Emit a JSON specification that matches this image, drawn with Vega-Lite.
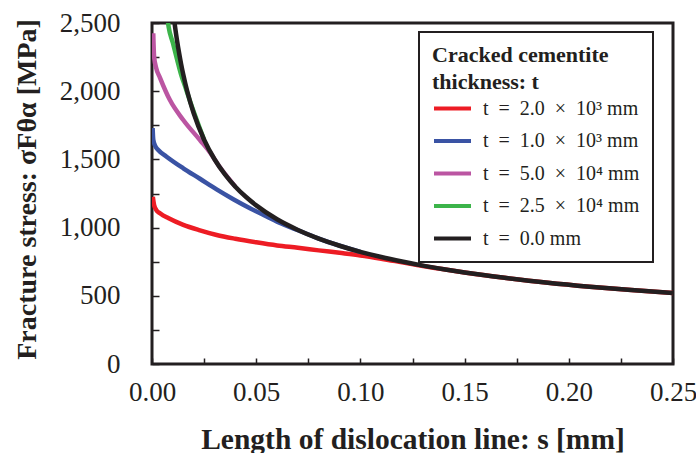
{
  "$schema": "https://vega.github.io/schema/vega-lite/v6.json",
  "width": 521,
  "height": 341,
  "autosize": {"type": "none"},
  "padding": {"left": 152, "top": 23, "right": 23, "bottom": 89},
  "background": "white",
  "config": {
    "font": "Liberation Serif",
    "view": {"stroke": "#231f20", "strokeWidth": 3},
    "axis": {
      "grid": false,
      "domain": false,
      "labelFont": "Liberation Serif",
      "labelFontSize": 27,
      "labelColor": "#231f20",
      "tickColor": "#231f20",
      "tickWidth": 1.5,
      "titleFont": "Liberation Serif",
      "titleFontSize": 28,
      "titleFontWeight": "bold",
      "titleColor": "#231f20"
    },
    "legend": {
      "labelFont": "Liberation Serif",
      "titleFont": "Liberation Serif"
    }
  },
  "data": {
    "values": [
      {"s": 0.0004, "v": 1225, "k": "a"},
      {"s": 0.001, "v": 1165, "k": "a"},
      {"s": 0.002, "v": 1130, "k": "a"},
      {"s": 0.004, "v": 1103, "k": "a"},
      {"s": 0.008, "v": 1068, "k": "a"},
      {"s": 0.015, "v": 1020, "k": "a"},
      {"s": 0.023, "v": 980, "k": "a"},
      {"s": 0.031, "v": 946, "k": "a"},
      {"s": 0.04, "v": 918, "k": "a"},
      {"s": 0.05, "v": 892, "k": "a"},
      {"s": 0.06, "v": 869, "k": "a"},
      {"s": 0.07, "v": 852, "k": "a"},
      {"s": 0.08, "v": 833, "k": "a"},
      {"s": 0.09, "v": 815, "k": "a"},
      {"s": 0.1, "v": 796, "k": "a"},
      {"s": 0.11, "v": 772, "k": "a"},
      {"s": 0.12, "v": 745, "k": "a"},
      {"s": 0.13, "v": 718, "k": "a"},
      {"s": 0.14, "v": 694, "k": "a"},
      {"s": 0.15, "v": 671, "k": "a"},
      {"s": 0.17, "v": 631, "k": "a"},
      {"s": 0.19, "v": 596, "k": "a"},
      {"s": 0.21, "v": 567, "k": "a"},
      {"s": 0.23, "v": 542, "k": "a"},
      {"s": 0.25, "v": 520, "k": "a"},

      {"s": 0.0003, "v": 1730, "k": "b"},
      {"s": 0.0006, "v": 1645, "k": "b"},
      {"s": 0.0015, "v": 1600, "k": "b"},
      {"s": 0.003, "v": 1569, "k": "b"},
      {"s": 0.007, "v": 1520, "k": "b"},
      {"s": 0.015, "v": 1435, "k": "b"},
      {"s": 0.023, "v": 1358, "k": "b"},
      {"s": 0.031, "v": 1280, "k": "b"},
      {"s": 0.039, "v": 1208, "k": "b"},
      {"s": 0.047, "v": 1142, "k": "b"},
      {"s": 0.055, "v": 1082, "k": "b"},
      {"s": 0.062, "v": 1030, "k": "b"},
      {"s": 0.068, "v": 993, "k": "b"},
      {"s": 0.073, "v": 962, "k": "b"},
      {"s": 0.08, "v": 919, "k": "b"},
      {"s": 0.1, "v": 822, "k": "b"},

      {"s": 0.0006, "v": 2425, "k": "c"},
      {"s": 0.001, "v": 2255, "k": "c"},
      {"s": 0.002, "v": 2170, "k": "c"},
      {"s": 0.0038, "v": 2100, "k": "c"},
      {"s": 0.0086, "v": 1935, "k": "c"},
      {"s": 0.015, "v": 1789, "k": "c"},
      {"s": 0.023, "v": 1642, "k": "c"},
      {"s": 0.028, "v": 1548, "k": "c"},
      {"s": 0.032, "v": 1455, "k": "c"},
      {"s": 0.04, "v": 1300, "k": "c"},

      {"s": 0.0072, "v": 2560, "k": "d"},
      {"s": 0.008, "v": 2470, "k": "d"},
      {"s": 0.01, "v": 2355, "k": "d"},
      {"s": 0.012, "v": 2235, "k": "d"},
      {"s": 0.014, "v": 2120, "k": "d"},
      {"s": 0.016, "v": 2030, "k": "d"},
      {"s": 0.018, "v": 1938, "k": "d"},
      {"s": 0.025, "v": 1644, "k": "d"},

      {"s": 0.0104, "v": 2550, "k": "e"},
      {"s": 0.011, "v": 2479, "k": "e"},
      {"s": 0.012, "v": 2373, "k": "e"},
      {"s": 0.013, "v": 2280, "k": "e"},
      {"s": 0.014, "v": 2197, "k": "e"},
      {"s": 0.015, "v": 2123, "k": "e"},
      {"s": 0.017, "v": 1994, "k": "e"},
      {"s": 0.02, "v": 1838, "k": "e"},
      {"s": 0.025, "v": 1644, "k": "e"},
      {"s": 0.03, "v": 1501, "k": "e"},
      {"s": 0.035, "v": 1390, "k": "e"},
      {"s": 0.04, "v": 1300, "k": "e"},
      {"s": 0.045, "v": 1226, "k": "e"},
      {"s": 0.05, "v": 1163, "k": "e"},
      {"s": 0.06, "v": 1061, "k": "e"},
      {"s": 0.07, "v": 983, "k": "e"},
      {"s": 0.08, "v": 919, "k": "e"},
      {"s": 0.09, "v": 867, "k": "e"},
      {"s": 0.1, "v": 822, "k": "e"},
      {"s": 0.11, "v": 784, "k": "e"},
      {"s": 0.12, "v": 751, "k": "e"},
      {"s": 0.13, "v": 721, "k": "e"},
      {"s": 0.14, "v": 695, "k": "e"},
      {"s": 0.15, "v": 671, "k": "e"},
      {"s": 0.17, "v": 631, "k": "e"},
      {"s": 0.19, "v": 596, "k": "e"},
      {"s": 0.21, "v": 567, "k": "e"},
      {"s": 0.23, "v": 542, "k": "e"},
      {"s": 0.25, "v": 520, "k": "e"}
    ]
  },
  "mark": {"type": "line", "clip": true, "strokeWidth": 4.5, "interpolate": "monotone"},
  "encoding": {
    "x": {
      "field": "s",
      "type": "quantitative",
      "scale": {"domain": [0, 0.25], "nice": false},
      "axis": {
        "title": "Length of dislocation line: s [mm]",
        "titleFontSize": 29.5,
        "values": [0, 0.025, 0.05, 0.075, 0.1, 0.125, 0.15, 0.175, 0.2, 0.225, 0.25],
        "labelExpr": "round(datum.value * 1000) % 50 == 0 ? format(datum.value, '.2f') : ''",
        "tickSize": -6,
        "labelPadding": 21,
        "labelFlush": false,
        "labelOverlap": false,
        "titleY": 75,
        "titleBaseline": "middle"
      }
    },
    "y": {
      "field": "v",
      "type": "quantitative",
      "scale": {"domain": [0, 2500], "nice": false},
      "axis": {
        "title": "Fracture stress: σFθα [MPa]",
        "values": [0, 250, 500, 750, 1000, 1250, 1500, 1750, 2000, 2250, 2500],
        "labelExpr": "datum.value % 500 == 0 ? format(datum.value, ',') : ''",
        "tickSize": -7,
        "labelPadding": 39,
        "labelFlush": false,
        "labelOverlap": false,
        "titleX": -125,
        "titleY": 166,
        "titleBaseline": "middle"
      }
    },
    "color": {
      "field": "k",
      "type": "nominal",
      "scale": {
        "domain": ["a", "b", "c", "d", "e"],
        "range": ["#ed1c24", "#3a53a4", "#bb55a2", "#3cb44a", "#231f20"]
      },
      "legend": {
        "title": ["Cracked cementite", "thickness: t"],
        "orient": "none",
        "legendX": 267,
        "legendY": 9,
        "fillColor": "white",
        "strokeColor": "#231f20",
        "padding": 13,
        "titleFontSize": 22,
        "titleFontWeight": "bold",
        "titleColor": "#231f20",
        "titleLineHeight": 27,
        "titlePadding": -6,
        "labelFontSize": 20,
        "labelColor": "#231f20",
        "labelOffset": 10,
        "symbolType": "stroke",
        "symbolSize": 1369,
        "symbolStrokeWidth": 4,
        "rowPadding": 1.5,
        "labelExpr": "datum.label == 'a' ? 't\u2002=\u20022.0\u2002×\u200210³ mm' : datum.label == 'b' ? 't\u2002=\u20021.0\u2002×\u200210³ mm' : datum.label == 'c' ? 't\u2002=\u20025.0\u2002×\u200210⁴ mm' : datum.label == 'd' ? 't\u2002=\u20022.5\u2002×\u200210⁴ mm' : 't\u2002=\u20020.0 mm'",
        "encode": {"legend": {"update": {"strokeWidth": {"value": 2}}}}
      }
    }
  }
}
